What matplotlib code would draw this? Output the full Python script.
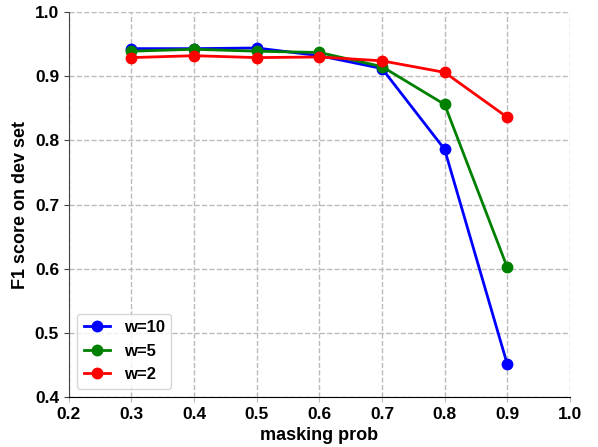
import matplotlib
matplotlib.use("Agg")
import matplotlib.pyplot as plt

plt.rcParams["font.family"] = ["Liberation Sans", "DejaVu Sans"]
plt.rcParams["font.weight"] = "bold"

# masking probabilities and F1 scores
probs = [0.3, 0.4, 0.5, 0.6, 0.7, 0.8, 0.9]
f1_w10 = [0.943, 0.943, 0.944, 0.932, 0.912, 0.786, 0.451]
f1_w5 = [0.939, 0.942, 0.939, 0.937, 0.915, 0.856, 0.602]
f1_w2 = [0.929, 0.932, 0.929, 0.930, 0.924, 0.906, 0.836]

fig = plt.figure(figsize=(5.98, 4.47), dpi=100)
ax = fig.add_axes([0.115, 0.112, 0.838, 0.861])

ax.plot(probs, f1_w10, "o-", color="blue", lw=2, ms=7.5, label="w=10")
ax.plot(probs, f1_w5, "o-", color="green", lw=2, ms=7.5, label="w=5")
ax.plot(probs, f1_w2, "o-", color="red", lw=2, ms=7.5, label="w=2")

ax.set_xlim(0.2, 1.0)
ax.set_ylim(0.4, 1.0)
ax.set_xticks([0.2, 0.3, 0.4, 0.5, 0.6, 0.7, 0.8, 0.9, 1.0])
ax.set_yticks([0.4, 0.5, 0.6, 0.7, 0.8, 0.9, 1.0])
ax.tick_params(labelsize=12.5)
ax.tick_params(axis="x", colors="#bbbbbb", labelcolor="black")
ax.tick_params(axis="y", colors="#444444", labelcolor="black")
ax.grid(True, ls="--", color="#bbbbbb", lw=1)

ax.spines["top"].set_visible(False)
ax.spines["right"].set_visible(False)
ax.spines["left"].set_color("#444444")

ax.set_xlabel("masking prob", fontsize=13, fontweight="bold")
ax.set_ylabel("F1 score on dev set", fontsize=13, fontweight="bold")

ax.legend(loc="lower left", fontsize=12, handlelength=1.6)

fig.savefig("out.png", dpi=100)
